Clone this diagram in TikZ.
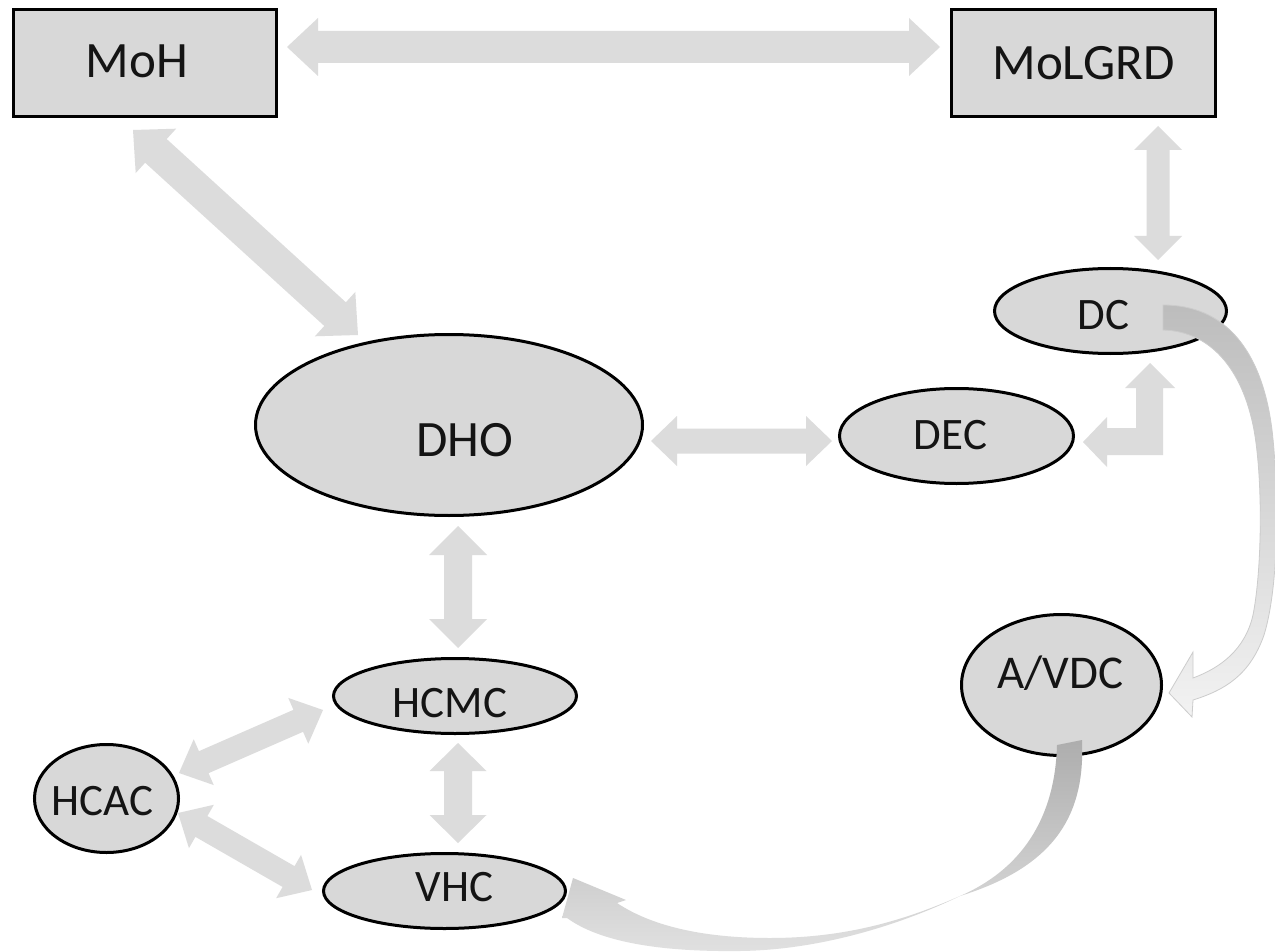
\documentclass[tikz,border=0pt]{standalone}
\usepackage{fontspec}
\setmainfont{Carlito}
\usetikzlibrary{calc,shapes.geometric}
\definecolor{nodefill}{RGB}{216,216,216}
\definecolor{arrfill}{RGB}{220,220,220}
\definecolor{txt}{RGB}{20,20,20}
\tikzset{
  box/.style={draw=black, line width=3pt, fill=nodefill, rectangle, inner sep=0pt,
              minimum width=263pt, minimum height=107pt},
  ell/.style={draw=black, line width=3pt, fill=nodefill, ellipse, inner sep=0pt},
  lbl/.style={text=txt, inner sep=0pt, text depth=0pt},
  bigtxt/.style={font=\fontsize{51}{60}\selectfont},
  midtxt/.style={font=\fontsize{45}{52}\selectfont},
  arrowfill/.style={fill=arrfill},
  curveA/.style={top color=black!26, bottom color=black!5, draw=black!20, line width=0.8pt},
  curveB/.style={top color=black!32, bottom color=black!12, draw=none},
}
% double block arrow: #1,#2 tips; #3 half shaft; #4 half head; #5 head length
\newcommand\dblarrow[5]{%
  \fill[arrowfill] (#1)
   -- ($(#1)!#5!(#2)!#4!90:(#2)$)
   -- ($(#1)!#5!(#2)!#3!90:(#2)$)
   -- ($(#2)!#5!(#1)!#3!-90:(#1)$)
   -- ($(#2)!#5!(#1)!#4!-90:(#1)$)
   -- (#2)
   -- ($(#2)!#5!(#1)!#4!90:(#1)$)
   -- ($(#2)!#5!(#1)!#3!90:(#1)$)
   -- ($(#1)!#5!(#2)!#3!-90:(#2)$)
   -- ($(#1)!#5!(#2)!#4!-90:(#2)$)
   -- cycle;}
\begin{document}
\begin{tikzpicture}[x=1pt,y=-1pt]
\useasboundingbox (0,0) rectangle (1275,952);
\fill[white] (0,0) rectangle (1275,952);

% ---------- nodes ----------
\node[box, label={[lbl,bigtxt,xshift=-8pt,yshift=2pt]center:MoH}] (moh) at (145,63) {};
\node[box, minimum width=264pt, label={[lbl,bigtxt]center:MoLGRD}] (molgrd) at (1083.5,63) {};
\node[ell, minimum width=387pt, minimum height=181pt,
      label={[lbl,bigtxt,xshift=16pt,yshift=-15pt]center:DHO}] (dho) at (449,425) {};
\node[ell, minimum width=234pt, minimum height=95pt,
      label={[lbl,midtxt,xshift=-6pt,yshift=1pt]center:DEC}] (dec) at (956.5,436) {};
\node[ell, minimum width=232pt, minimum height=85pt,
      label={[lbl,midtxt,xshift=-7pt,yshift=-4pt]center:DC}] (dc) at (1110.5,311) {};
\node[ell, minimum width=200pt, minimum height=141pt,
      label={[lbl,font=\fontsize{47}{54}\selectfont,xshift=-1pt,yshift=13pt]center:A/VDC}] (avdc) at (1061.5,685) {};
\node[ell, minimum width=243pt, minimum height=75pt,
      label={[lbl,midtxt,xshift=-5pt,yshift=-7pt]center:HCMC}] (hcmc) at (455,696) {};
\node[ell, minimum width=242pt, minimum height=75pt,
      label={[lbl,midtxt,xshift=10pt,yshift=4pt]center:VHC}] (vhc) at (444.5,891) {};
\node[ell, minimum width=144pt, minimum height=108pt,
      label={[lbl,midtxt,xshift=-4pt,yshift=-2pt]center:HCAC}] (hcac) at (106.5,798.5) {};

% ---------- arrow end points ----------
\coordinate (mohE)   at (287,47);   \coordinate (molgrdW) at (940,47);
\coordinate (mohS)   at (133,130);  \coordinate (dhoNW)   at (358,335);
\coordinate (molgrdS) at (1158,126); \coordinate (dcN)    at (1158,260);
\coordinate (dhoE)   at (651,441);  \coordinate (decW)    at (832,441);
\coordinate (dhoS)   at (458,526);  \coordinate (hcmcN)   at (458,648);
\coordinate (hcmcS)  at (458,743);  \coordinate (vhcN)    at (458,843);
\coordinate (hcacNE) at (179,773);  \coordinate (hcmcW)   at (323,710);
\coordinate (hcacSE) at (178,813);  \coordinate (vhcW)    at (312,890);
\coordinate (dcS)    at (1150,363); \coordinate (decE)    at (1083,442);

% ---------- straight block arrows ----------
\dblarrow{mohE}{molgrdW}{16pt}{29pt}{31pt}
\dblarrow{mohS}{dhoNW}{16pt}{30pt}{31pt}
\dblarrow{molgrdS}{dcN}{11.5pt}{24pt}{24pt}
\dblarrow{dhoE}{decW}{12.5pt}{25pt}{26pt}
\dblarrow{dhoS}{hcmcN}{14pt}{29pt}{29pt}
\dblarrow{hcmcS}{vhcN}{14pt}{28.5pt}{28pt}
\dblarrow{hcacNE}{hcmcW}{12pt}{25pt}{27pt}
\dblarrow{hcacSE}{vhcW}{12pt}{25pt}{27pt}

% bent arrow DC -- DEC
\fill[arrowfill] (dcS) -- ++(25,25) -- ++(-12,0) -- ++(0,67) -- ++(-56,0)
  -- ++(0,12) -- (decE) -- ++(24,-25) -- ++(0,11) -- ++(29,0) -- ++(0,-40)
  -- ++(-11,0) -- cycle;

% ---------- curved arrow DC -> A/VDC ----------
\coordinate (dcIn) at (1163,305);
\coordinate (avdcTip) at (1169,693);
\shade[curveA] (dcIn)
  .. controls (1225,305) and (1262,350) .. (1272,430)
  .. controls (1280,500) and (1278,590) .. (1264,635)
  .. controls (1250,675) and (1225,690) .. (1193,700)
  -- (1192,717) -- (avdcTip) -- (1193,652) -- (1193,678)
  .. controls (1220,668) and (1245,650) .. (1253,615)
  .. controls (1262,570) and (1263,480) .. (1254,430)
  .. controls (1242,366) and (1208,331) .. (1163,330) -- cycle;

% ---------- curved arrow A/VDC -> VHC ----------
\coordinate (avdcIn) at (1082,740);
\coordinate (vhcTip) at (573,878);
\shade[curveB] (avdcIn)
  .. controls (1085,810) and (1060,865) .. (960,896)
  .. controls (900,925) and (820,950) .. (740,951)
  .. controls (660,952) and (600,942) .. (567,918)
  -- (562,918) -- (vhcTip) -- (626,900) -- (617,903)
  .. controls (650,925) and (700,938) .. (770,938)
  .. controls (850,938) and (910,918) .. (960,896)
  .. controls (1020,870) and (1055,820) .. (1057,745) -- cycle;
\end{tikzpicture}
\end{document}
